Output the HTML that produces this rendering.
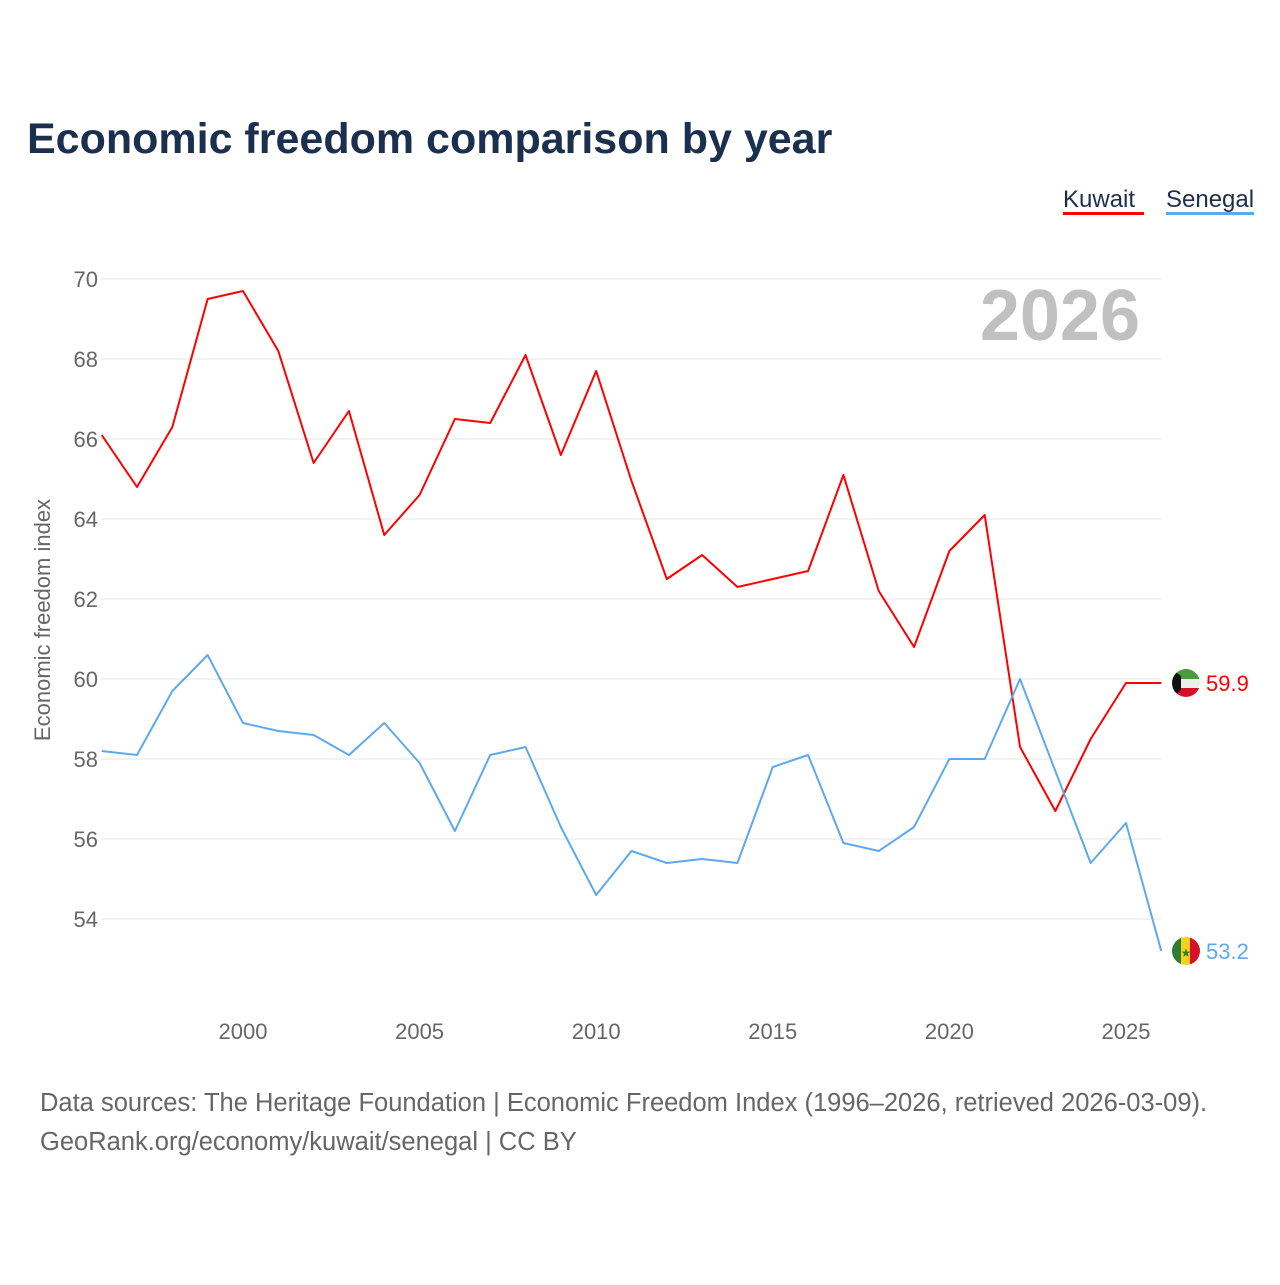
<!DOCTYPE html>
<html><head><meta charset="utf-8"><style>
body{margin:0;background:#fff;font-family:"Liberation Sans",sans-serif;}
svg text{font-family:"Liberation Sans",sans-serif;}
</style></head><body>
<svg width="1280" height="1280" viewBox="0 0 1280 1280">
<defs>
<clipPath id="cK"><circle cx="1186" cy="683" r="14"/></clipPath>
<clipPath id="cS"><circle cx="1186" cy="951" r="14"/></clipPath>
</defs>
<text x="27" y="153" font-size="43" font-weight="bold" fill="#1b2f4e">Economic freedom comparison by year</text>
<g>
<text x="1063" y="207" font-size="24" fill="#1b2f4e">Kuwait</text>
<rect x="1063" y="212" width="81" height="3" fill="#ff0000"/>
<text x="1166" y="207" font-size="24" fill="#1b2f4e">Senegal</text>
<rect x="1166" y="212" width="88" height="3" fill="#5ea9ed"/>
</g>
<g id="grid"></g>
<text x="1140" y="340" font-size="72" font-weight="bold" fill="#c0c0c0" text-anchor="end">2026</text>
<text transform="translate(50,620) rotate(-90)" font-size="22" fill="#666" text-anchor="middle">Economic freedom index</text>
<g id="marks"></g>
<text x="40" y="1111" font-size="25.5" fill="#666">Data sources: The Heritage Foundation | Economic Freedom Index (1996–2026, retrieved 2026-03-09).</text>
<text x="40" y="1150" font-size="25.5" fill="#666">GeoRank.org/economy/kuwait/senegal | CC BY</text>
</svg>
<script>
const years=[1996,1997,1998,1999,2000,2001,2002,2003,2004,2005,2006,2007,2008,2009,2010,2011,2012,2013,2014,2015,2016,2017,2018,2019,2020,2021,2022,2023,2024,2025,2026];
const kuwait=[66.1,64.8,66.3,69.5,69.7,68.2,65.4,66.7,63.6,64.6,66.5,66.4,68.1,65.6,67.7,64.95,62.5,63.1,62.3,62.5,62.7,65.1,62.2,60.8,63.2,64.1,58.3,56.7,58.5,59.9,59.9];
const senegal=[58.2,58.1,59.7,60.6,58.9,58.7,58.6,58.1,58.9,57.9,56.2,58.1,58.3,56.3,54.6,55.7,55.4,55.5,55.4,57.8,58.1,55.9,55.7,56.3,58.0,58.0,60.0,57.7,55.4,56.4,53.2];
const yTicks=[54,56,58,60,62,64,66,68,70];
const xTicks=[2000,2005,2010,2015,2020,2025];
const NS="http://www.w3.org/2000/svg";
const X=y=>101.7+(y-1996)*35.32;
const Y=v=>279+(70-v)*40;
function mk(tag,attrs,parent,txt){const e=document.createElementNS(NS,tag);for(const k in attrs)e.setAttribute(k,attrs[k]);if(txt!=null)e.textContent=txt;parent.appendChild(e);return e;}
const grid=document.getElementById('grid'),marks=document.getElementById('marks');
yTicks.forEach(t=>{
 const l=mk('line',{x1:101,x2:1161,y1:Y(t),y2:Y(t),stroke:'#e6e6e6','stroke-width':1},grid);
 
 
 const tx=mk('text',{x:98,y:Y(t)+8,'font-size':22,fill:'#666','text-anchor':'end'},grid,t);
 
 
});
xTicks.forEach(t=>{
 const tx=mk('text',{x:X(t),y:1039,'font-size':22,fill:'#666','text-anchor':'middle'},grid,t);
 
 
});
function series(vals,color,name){
 const p=mk('polyline',{points:vals.map((v,i)=>X(years[i])+','+Y(v)).join(' '),fill:'none',stroke:color,'stroke-width':2,'stroke-linejoin':'round'},marks);
 
 
 const last=vals[vals.length-1],cy=Y(last),cx=1186;
 const g=mk('g',{},marks);
 
 
 if(name==='kuwait'){
  const cg=mk('g',{'clip-path':'url(#cK)',transform:'translate(0,'+(cy-683)+')'},g);
  mk('rect',{x:1172,y:669,width:28,height:10,fill:'#4a9a3e'},cg);
  mk('rect',{x:1172,y:679,width:28,height:9,fill:'#eee'},cg);
  mk('rect',{x:1172,y:688,width:28,height:10,fill:'#d6102b'},cg);
  mk('polygon',{points:'1172,669 1181,676 1181,690 1172,698',fill:'#111'},cg);
 } else {
  const cg=mk('g',{'clip-path':'url(#cS)',transform:'translate(0,'+(cy-951)+')'},g);
  mk('rect',{x:1172,y:937,width:10,height:28,fill:'#2e7d32'},cg);
  mk('rect',{x:1181,y:937,width:10,height:28,fill:'#f5d21a'},cg);
  mk('rect',{x:1190,y:937,width:10,height:28,fill:'#d6102b'},cg);
  mk('text',{x:1186,y:957,'font-size':12,fill:'#2e7d32','text-anchor':'middle'},cg,'★');
 }
 const lb=mk('text',{x:1206,y:cy+8,'font-size':22,fill:color},marks,last.toFixed(1));
 
 
}
series(kuwait,'#ff0000','kuwait');
series(senegal,'#5ea9ed','senegal');
</script>
</body></html>
